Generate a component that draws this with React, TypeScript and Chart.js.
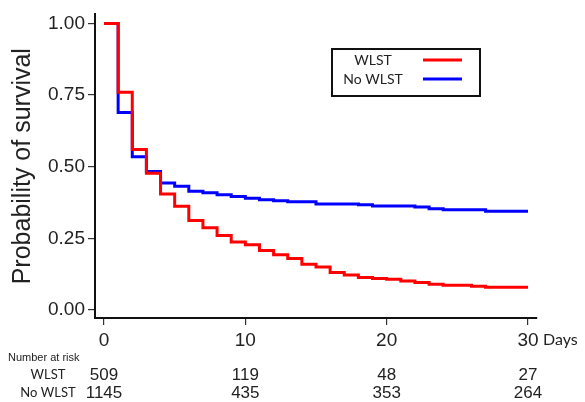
import React, { useEffect, useRef } from 'react';
import { Chart, registerables } from 'chart.js';

Chart.register(...registerables);

// Kaplan-Meier survival estimates (day at which the step starts, survival from that day on)
const wlstDays = [0, 1, 2, 3, 4, 5, 6, 7, 8, 9, 10, 11, 12, 13, 14, 15, 16, 17, 18, 19, 20, 21, 22, 23, 24, 26, 27, 30];
const wlstSurv = [1.0, 0.76, 0.56, 0.477, 0.405, 0.362, 0.312, 0.287, 0.26, 0.237, 0.228, 0.208, 0.193, 0.18, 0.16, 0.15, 0.131, 0.122, 0.113, 0.11, 0.107, 0.101, 0.096, 0.09, 0.086, 0.083, 0.079, 0.079];

const noWlstDays = [0, 1, 2, 3, 4, 5, 6, 7, 8, 9, 10, 11, 12, 13, 15, 18, 19, 22, 23, 24, 27, 30];
const noWlstSurv = [1.0, 0.689, 0.535, 0.483, 0.443, 0.432, 0.414, 0.409, 0.402, 0.396, 0.39, 0.385, 0.381, 0.378, 0.37, 0.367, 0.363, 0.359, 0.353, 0.35, 0.345, 0.345];

const seriesNames = ['WLST', 'No WLST'];
const seriesColors = ['#ff0000', '#0000ff'];

const xTicks = [0, 10, 20, 30];
const yTicks = [0, 0.25, 0.5, 0.75, 1.0];

const riskTitle = 'Number at risk';
const riskWLST = [509, 119, 48, 27];
const riskNoWLST = [1145, 435, 353, 264];

const yTitle = 'Probability of survival';
const xUnit = 'Days';

const W = 585;
const H = 402;

const toPoints = (xs: number[], ys: number[]) => xs.map((x, i) => ({ x, y: ys[i] }));

const extrasPlugin = {
  id: 'extras',
  afterDraw(chart: any) {
    const ctx = chart.ctx as CanvasRenderingContext2D;
    const area = chart.chartArea;
    const xs = chart.scales.x;
    ctx.save();

    // Y-axis title
    ctx.fillStyle = '#222';
    ctx.font = '25px "Liberation Sans", Arial, sans-serif';
    ctx.textAlign = 'center';
    ctx.textBaseline = 'middle';
    ctx.translate(23, (area.top + area.bottom) / 2);
    ctx.rotate(-Math.PI / 2);
    ctx.fillText(yTitle, 0, 0);
    ctx.setTransform(1, 0, 0, 1, 0, 0);

    // "Days" after last tick label
    ctx.font = '16px Lato, "Open Sans", sans-serif';
    ctx.textAlign = 'left';
    ctx.textBaseline = 'middle';
    ctx.fillText(xUnit, xs.getPixelForValue(30) + 15, 340);

    // Number at risk table
    ctx.font = '11px "Liberation Sans", Arial, sans-serif';
    ctx.textAlign = 'left';
    ctx.fillText(riskTitle, 8, 358);
    ctx.font = '13px Lato, "Open Sans", sans-serif';
    ctx.textAlign = 'center';
    ctx.fillText(seriesNames[0], 48, 375);
    ctx.fillText(seriesNames[1], 48, 393);
    ctx.font = '17px "Liberation Sans", Arial, sans-serif';
    xTicks.forEach((t, i) => {
      const px = xs.getPixelForValue(t);
      ctx.fillText(String(riskWLST[i]), px, 375);
      ctx.fillText(String(riskNoWLST[i]), px, 393);
    });

    // Legend box
    ctx.strokeStyle = '#111';
    ctx.lineWidth = 2;
    ctx.strokeRect(332, 49, 148, 47);
    ctx.font = '14px Lato, "Open Sans", sans-serif';
    ctx.fillStyle = '#222';
    ctx.textAlign = 'center';
    const rowsY = [60, 79];
    seriesNames.forEach((name, i) => {
      ctx.fillText(name, 373, rowsY[i]);
      ctx.strokeStyle = seriesColors[i];
      ctx.lineWidth = 3;
      ctx.beginPath();
      ctx.moveTo(423, rowsY[i]);
      ctx.lineTo(462, rowsY[i]);
      ctx.stroke();
    });

    ctx.restore();
  },
};

export default function App() {
  const canvasRef = useRef<HTMLCanvasElement | null>(null);

  useEffect(() => {
    if (!canvasRef.current) return;
    const chart = new Chart(canvasRef.current, {
      type: 'line',
      data: {
        datasets: [
          {
            label: seriesNames[0],
            data: toPoints(wlstDays, wlstSurv),
            borderColor: seriesColors[0],
            backgroundColor: seriesColors[0],
            borderWidth: 3,
            pointRadius: 0,
            stepped: true,
            fill: false,
          },
          {
            label: seriesNames[1],
            data: toPoints(noWlstDays, noWlstSurv),
            borderColor: seriesColors[1],
            backgroundColor: seriesColors[1],
            borderWidth: 3,
            pointRadius: 0,
            stepped: true,
            fill: false,
          },
        ],
      },
      options: {
        responsive: false,
        animation: false,
        devicePixelRatio: 1,
        layout: { padding: { top: 14, right: 48, bottom: 0, left: 0 } },
        plugins: {
          legend: { display: false },
          tooltip: { enabled: false },
        },
        scales: {
          x: {
            type: 'linear',
            min: -0.637,
            max: 30.637,
            afterBuildTicks: (scale: any) => {
              scale.ticks = xTicks.map((v) => ({ value: v }));
            },
            afterFit: (scale: any) => {
              scale.height = H - 318;
            },
            grid: {
              display: true,
              drawOnChartArea: false,
              drawTicks: true,
              tickLength: 7,
              tickColor: '#333',
              lineWidth: 1.2,
            },
            border: { display: true, color: '#111', width: 2 },
            ticks: {
              color: '#222',
              padding: 4,
              maxRotation: 0,
              font: { family: '"Liberation Sans", Arial, sans-serif', size: 19 },
              callback: (v: any) => String(v),
            },
          },
          y: {
            type: 'linear',
            min: -0.0279,
            max: 1.0314,
            afterBuildTicks: (scale: any) => {
              scale.ticks = yTicks.map((v) => ({ value: v }));
            },
            afterFit: (scale: any) => {
              scale.width = 95;
            },
            grid: {
              display: true,
              drawOnChartArea: false,
              drawTicks: true,
              tickLength: 7,
              tickColor: '#333',
              lineWidth: 1.2,
            },
            border: { display: true, color: '#111', width: 2 },
            ticks: {
              color: '#222',
              padding: 3,
              font: { family: '"Liberation Sans", Arial, sans-serif', size: 19 },
              callback: (v: any) => Number(v).toFixed(2),
            },
          },
        },
      },
      plugins: [extrasPlugin],
    });
    return () => chart.destroy();
  }, []);

  return (
    <div style={{ position: 'fixed', left: 0, top: 0, width: W, height: H, background: '#fff' }}>
      <canvas ref={canvasRef} width={W} height={H} style={{ width: W, height: H, display: 'block' }} />
    </div>
  );
}
